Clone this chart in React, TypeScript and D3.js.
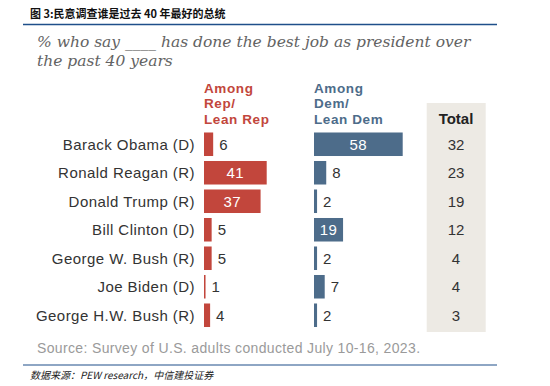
import * as d3 from "d3";

const presidents = [
  "Barack Obama (D)",
  "Ronald Reagan (R)",
  "Donald Trump (R)",
  "Bill Clinton (D)",
  "George W. Bush (R)",
  "Joe Biden (D)",
  "George H.W. Bush (R)",
];
const repValues = [6, 41, 37, 5, 5, 1, 4];
const demValues = [58, 8, 2, 19, 2, 7, 2];
const totalValues = [32, 23, 19, 12, 4, 4, 3];

const RED = "#c2463c";
const BLUE = "#4d6c8a";
const SANS = "'Liberation Sans', Arial, sans-serif";

export default function App() {
  const w = 550,
    h = 386;
  const y = d3.scaleBand().domain(presidents).range([130, 329.5]).paddingInner(0.175).paddingOuter(0.0875);
  const x = d3.scaleLinear().domain([0, 58]).range([0, 88.7]);
  const repX = 204,
    demX = 314,
    totalX = 456;

  const column = (vals: number[], x0: number, color: string) =>
    presidents.map((p, i) => {
      const v = vals[i];
      const bw = x(v);
      const inside = v >= 15;
      const cy = (y(p) as number) + y.bandwidth() / 2;
      return (
        <g key={p}>
          <rect x={x0} y={y(p)} width={bw} height={y.bandwidth()} fill={color} />
          <text
            x={inside ? x0 + bw / 2 : x0 + bw + 6}
            y={cy}
            dy="0.36em"
            textAnchor={inside ? "middle" : "start"}
            fill={inside ? "#fff" : "#333"}
            fontSize={15}
            letterSpacing={0.5}
          >
            {v}
          </text>
        </g>
      );
    });

  const header = (lines: string[], x0: number, color: string) => (
    <g fontWeight="bold" fontSize={13.5} letterSpacing={0.6} fill={color}>
      {lines.map((l, i) => (
        <text key={l} x={x0} y={92.5 + i * 15.5}>
          {l}
        </text>
      ))}
    </g>
  );

  return (
    <svg width={w} height={h} style={{ position: "absolute", left: 0, top: 0, background: "#fff" }} fontFamily={SANS}>
      <text x={30} y={18} fontSize={11} fontWeight="bold" fontFamily="'Noto Sans CJK SC', sans-serif" fill="#111">
        图 3:民意调查谁是过去 40 年最好的总统
      </text>
      <line x1={23} x2={497} y1={24.5} y2={24.5} stroke="#1f4f8a" strokeWidth={1.5} />

      <g fontFamily="'DejaVu Serif', Georgia, serif" fontStyle="italic" fontSize={15.5} fill="#636363">
        <text x={37} y={46.5}>% who say ____ has done the best job as president over</text>
        <text x={37} y={65.5}>the past 40 years</text>
      </g>

      {header(["Among", "Rep/", "Lean Rep"], repX, RED)}
      {header(["Among", "Dem/", "Lean Dem"], demX, BLUE)}

      <rect x={426.7} y={103} width={59} height={229} fill="#edeae4" />
      <text x={totalX} y={124} textAnchor="middle" fontWeight="bold" fontSize={15} fill="#222">
        Total
      </text>

      {presidents.map((p) => (
        <text
          key={p}
          x={195}
          y={(y(p) as number) + y.bandwidth() / 2}
          dy="0.36em"
          textAnchor="end"
          fontSize={15}
          letterSpacing={0.45}
          fill="#333"
        >
          {p}
        </text>
      ))}

      {column(repValues, repX, RED)}
      {column(demValues, demX, BLUE)}

      {presidents.map((p, i) => (
        <text
          key={p}
          x={totalX}
          y={(y(p) as number) + y.bandwidth() / 2}
          dy="0.36em"
          textAnchor="middle"
          fontSize={15}
          fill="#333"
        >
          {totalValues[i]}
        </text>
      ))}

      <text x={37} y={353} fontSize={14} letterSpacing={0.35} fill="#9a9a9a">
        Source: Survey of U.S. adults conducted July 10-16, 2023.
      </text>
      <line x1={23} x2={497} y1={365} y2={365} stroke="#1f4f8a" strokeWidth={1.2} />
      <text x={30} y={378.5} fontSize={10} fontStyle="italic" fontFamily="'Noto Sans CJK SC', serif" fill="#222">
        数据来源：PEW research，中信建投证券
      </text>
    </svg>
  );
}
